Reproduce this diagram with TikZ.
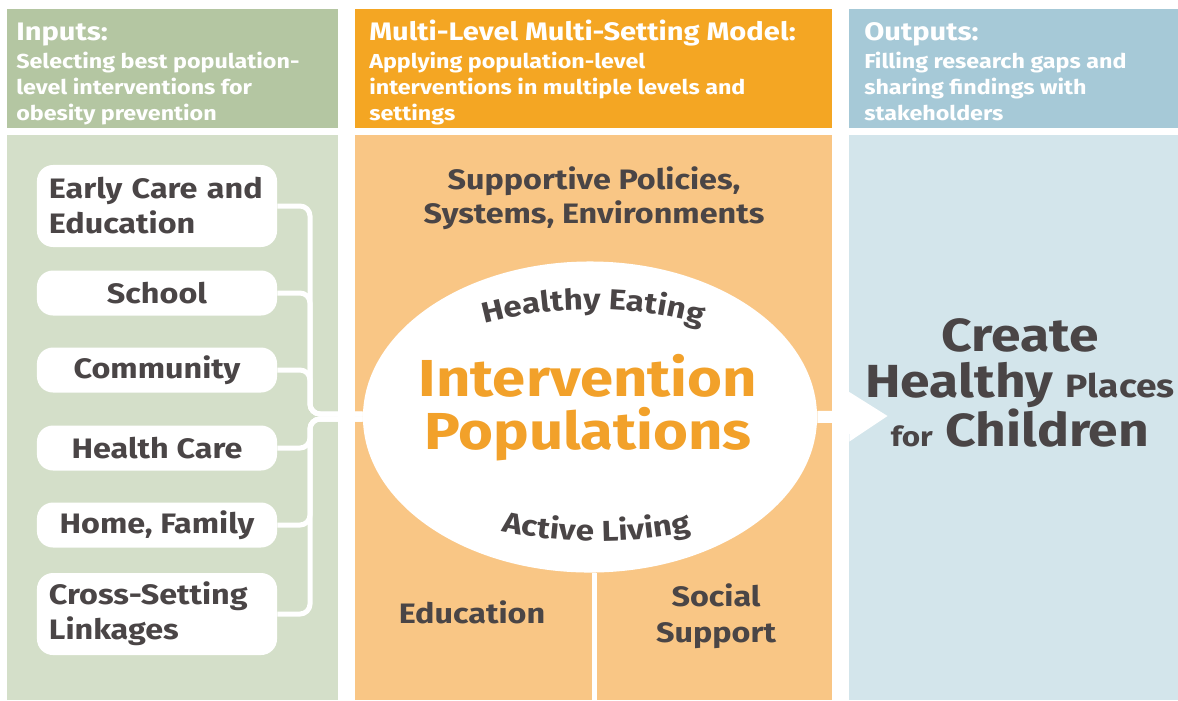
\documentclass[tikz,border=0pt]{standalone}
\usepackage{fontspec}
\setmainfont{Fira Sans}[FakeStretch=1.15]
\usetikzlibrary{shapes.geometric,arrows.meta,decorations.text}

\definecolor{inhead}{HTML}{B4C6A2}
\definecolor{inbody}{HTML}{D4DFC9}
\definecolor{modhead}{HTML}{F4A623}
\definecolor{modbody}{HTML}{F9C685}
\definecolor{outhead}{HTML}{A6C9D7}
\definecolor{outbody}{HTML}{D3E5EB}
\definecolor{ink}{HTML}{4A4546}
\definecolor{popink}{HTML}{F2A12A}

\tikzset{
  hdtitle/.style={anchor=base west, inner sep=0, text=white, font=\bfseries\fontsize{18}{20}\selectfont},
  hdsub/.style={anchor=north west, inner sep=0, text=white, align=left, font=\bfseries\fontsize{14.4}{18.5}\selectfont},
  setting/.style={fill=white, rounded corners=0.4cm, minimum width=6cm, minimum height=1.125cm,
    inner xsep=0.4cm, text=ink, align=center, font=\bfseries\fontsize{20}{24.9}\selectfont},
  setting2/.style={setting, minimum height=2.05cm, align=left, inner xsep=0.3cm, text width=5.4cm},
  link/.style={white, line width=0.125cm, rounded corners=0.25cm},
  midtext/.style={text=ink, align=center, font=\bfseries\fontsize{20}{24.5}\selectfont},
  arctext/.style={decorate, decoration={text along path, text align=center, text color=ink,
    text format delimiters={|}{|}}},
}

\begin{document}
\begin{tikzpicture}[x=0.025cm, y=-0.025cm]
        \useasboundingbox (0,0) rectangle (1178,700);
        \fill[white] (0,0) rectangle (1178,700);

        \fill[inhead] (7,9) rectangle (338,128);
        \fill[inbody] (7,135) rectangle (338,700);
        \fill[modhead] (355,9) rectangle (832,128);
        \fill[modbody] (355,135) rectangle (832,700);
        \fill[outhead] (849,9) rectangle (1178,128);
        \fill[outbody] (849,135) rectangle (1178,700);

        \node[hdtitle] (intitle) at (16,40) {Inputs:};
        \node[hdsub] (insub) at (16,52) {Selecting best population-\\level interventions for\\obesity prevention};
        \node[hdtitle] (modtitle) at (369,40) {Multi-Level Multi-Setting Model:};
        \node[hdsub] (modsub) at (369,52) {Applying population-level\\interventions in multiple levels and\\settings};
        \node[hdtitle] (outtitle) at (864,40) {Outputs:};
        \node[hdsub] (outsub) at (864,52) {Filling research gaps and\\sharing findings with\\stakeholders};

        \node[setting2] (early) at (157,206) {Early Care and\\Education};
        \node[setting] (school) at (157,293) {School};
        \node[setting] (community) at (157,370) {Community};
        \node[setting] (health) at (157,448) {Health Care};
        \node[setting] (home) at (157,525) {Home, Family};
        \node[setting2] (cross) at (157,614) {Cross-Setting\\Linkages};

        \coordinate (busup) at (310,414);
        \coordinate (buslo) at (310,419);
        \coordinate (foot) at (594,700);
        \coordinate (outtip) at (888,416);

        \node[ellipse, fill=white, minimum width=11.35cm, minimum height=7.775cm, inner sep=0] (pop) at (590,417) {};

        \foreach \s in {early,school,community}
            \draw[link] (\s.east) -| (busup) -- (busup -| pop.west);
        \foreach \s in {health,home,cross}
            \draw[link] (\s.east) -| (buslo) -- (buslo -| pop.west);
        \draw[white, line width=0.125cm] (pop.south -| foot) -- (foot);
        \draw[white, line width=0.3cm, -{Triangle[length=0.975cm, width=1.175cm]}] (pop.east) -- (outtip);

        \node[midtext] (policies) at (594,198) {Supportive Policies,\\Systems, Environments};
        \node[text=popink, align=center, font=\bfseries\fontsize{37}{37.7}\selectfont] (intpop) at (588,408) {Intervention\\Populations};
        \path[arctext, decoration={text={|\bfseries\fontsize{20.5}{24}\selectfont|Healthy Eating}}]
            (478,325) .. controls (550,304) and (640,304) .. (708,327);
        \path[arctext, decoration={text={|\bfseries\fontsize{20.5}{24}\selectfont|Active Living}}]
            (493,529) .. controls (560,545) and (630,545) .. (700,530);
        \node[midtext] (educ) at (472,612) {Education};
        \node[midtext, font=\bfseries\fontsize{20}{25.6}\selectfont] (social) at (716,616) {Social\\Support};

        \node[text=ink, align=center, font=\bfseries\fontsize{33}{32.7}\selectfont] (create) at (1020,383)
            {Create\\Healthy {\fontsize{23}{23}\selectfont Places}\\{\fontsize{19.5}{19.5}\selectfont for} Children};
\end{tikzpicture}
\end{document}
